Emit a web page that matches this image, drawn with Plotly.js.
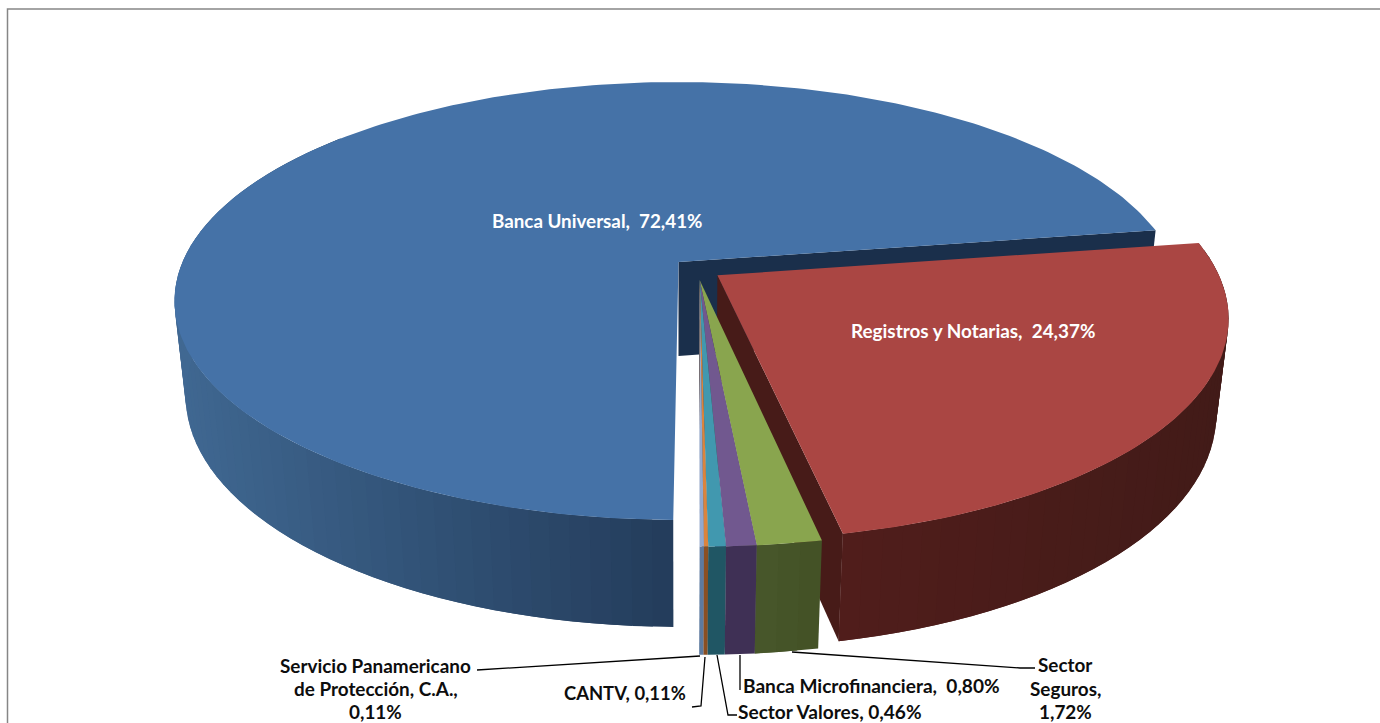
<!DOCTYPE html>
<html>
<head>
<meta charset="utf-8">
<script src="https://cdn.plot.ly/plotly-3.0.1.min.js"></script>
<style>html,body{margin:0;padding:0;background:#fff;overflow:hidden}#chart{width:1380px;height:723px}</style>
</head>
<body>
<div id="chart"></div>
<script>
// Shares of the total, in percent, in clockwise drawing order.
const categories = ["Banca Universal", "Registros y Notarias", "Sector Seguros", "Banca Microfinanciera", "Sector Valores", "CANTV", "Servicio Panamericano de Protección, C.A."];
const values = [72.41, 24.37, 1.72, 0.80, 0.46, 0.11, 0.11];
const topColors = ["#4572A7", "#AA4643", "#89A54E", "#71588F", "#4198AF", "#DB843D", "#93A9CF"];
const cutFaceColors = ["#1A2F4B", "#471B18", "#3F4D22", "#3A2C50", "#1E5260", "#85491F", "#5A7096"];
const wallLeftColors = ["#406892", "#501D1B", "#47562A", "#3F3055", "#205664", "#8A4F22", "#5D7A9F"];
const wallRightColors = ["#243D5C", "#421B18", "#445226", "#3A2B4D", "#1F5260", "#8A4F22", "#5D7A9F"];

// Projection of the unit disc on the page: perspective foreshortening in depth.
const cx = 678.5, cy = 262, radiusX = 496, radiusY = 212, tilt = 0.178;
const wallDrop = 96, wallRecede = 0.022;
const startAngle = 180.5;
// Exploded offsets on the disc, per slice.
const offsetX = [0, 0.0776, 0.042, 0.042, 0.042, 0.042, 0.042];
const offsetY = [0, -0.062, -0.0833, -0.0833, -0.0833, -0.0833, -0.0833];

const topPoint = (X, Y) => {
  const w = 1 + tilt * Y;
  return [cx + radiusX * X / w, cy - radiusY * Y / w];
};
const basePoint = (X, Y) => {
  const w = 1 + tilt * Y + wallRecede;
  return [cx + radiusX * X / w, cy + (wallDrop - radiusY * Y) / w];
};

const hexToRgb = h => [1, 3, 5].map(i => parseInt(h.substr(i, 2), 16));
const mix = (a, b, t) => {
  const p = hexToRgb(a), q = hexToRgb(b);
  return "rgb(" + p.map((v, i) => Math.round(v + (q[i] - v) * t)).join(",") + ")";
};

const traces = [];
const polygon = (pts, color) => traces.push({
  type: "scatter", mode: "lines", fill: "toself", fillcolor: color,
  x: pts.map(p => p[0]), y: pts.map(p => p[1]),
  line: {color: color, width: 0}, hoverinfo: "skip", showlegend: false
});

// Angular extent of every slice, accumulated clockwise from the start angle.
const slices = [];
let running = startAngle;
values.forEach((v, i) => {
  const sweep = v / 100 * 360;
  slices.push({i, from: running, to: running + sweep});
  running += sweep;
});

const rimAt = (s, deg) => {
  const r = deg * Math.PI / 180;
  return [offsetX[s.i] + Math.sin(r), offsetY[s.i] + Math.cos(r)];
};

function drawSlice(s) {
  const i = s.i;
  const hub = [offsetX[i], offsetY[i]];
  // Face cut along the clockwise end of the slice, seen through the gap.
  const end = rimAt(s, s.to);
  polygon([topPoint(...hub), topPoint(...end), basePoint(...end), basePoint(...hub)], cutFaceColors[i]);

  // Outer wall: shaded bands following the rim, each running under the next
  // so that no hairline shows between neighbours.
  const sweep = s.to - s.from;
  const wallSweep = Math.min(sweep, i === 0 ? 130 : sweep);
  const bands = Math.max(1, Math.round(wallSweep / 2));
  const step = wallSweep / bands;
  const xs = [];
  for (let b = 0; b < bands; b++) xs.push(topPoint(...rimAt(s, s.from + step * b))[0]);
  const lo = Math.min(...xs), hi = Math.max(...xs);
  for (let b = 0; b < bands; b++) {
    const a0 = s.from + step * b;
    const a1 = Math.min(s.from + wallSweep, a0 + step * 2);
    const p0 = rimAt(s, a0), pm = rimAt(s, (a0 + a1) / 2), p1 = rimAt(s, a1);
    const t = hi > lo ? (xs[b] - lo) / (hi - lo) : 0;
    polygon([topPoint(...p0), topPoint(...pm), topPoint(...p1), basePoint(...p1), basePoint(...pm), basePoint(...p0)],
            mix(wallLeftColors[i], wallRightColors[i], t));
  }

  // Top face.
  const outline = [topPoint(...hub)];
  const steps = Math.max(2, Math.round(sweep));
  for (let n = 0; n <= steps; n++) outline.push(topPoint(...rimAt(s, s.from + sweep * n / steps)));
  polygon(outline, topColors[i]);
}
slices.forEach(drawSlice);

// Leader lines from the small slices to their labels.
const leaderX = [[477, 700], [705, 701, 692], [717, 728, 737], [740, 740], [792, 1020, 1035]];
const leaderY = [[670, 656], [657, 706, 707], [655, 715, 715], [655, 690], [652, 668, 668]];
leaderX.forEach((xs, n) => traces.push({
  type: "scatter", mode: "lines", x: xs, y: leaderY[n],
  line: {color: "#000000", width: 1.3}, hoverinfo: "skip", showlegend: false
}));

const pct = i => values[i].toFixed(2).replace(".", ",") + "%";
const label = (text, x, y, color, size) => ({
  text: "<b>" + text + "</b>", x: x, y: y, xref: "x", yref: "y", showarrow: false,
  xanchor: "center", yanchor: "middle", align: "center",
  font: {family: "Lato, Carlito, sans-serif", size: size, color: color}
});
const ink = "#0D0D0D";
const annotations = [
  label(categories[0] + ",  " + pct(0), 596.5, 220, "#FFFFFF", 18.8),
  label(categories[1] + ",  " + pct(1), 972.5, 330, "#FFFFFF", 18.9),
  label("Sector", 1065, 664, ink, 18.9),
  label("Seguros,", 1065, 688, ink, 18.9),
  label(pct(2), 1065, 711, ink, 18.9),
  label(categories[3] + ",  " + pct(3), 871.5, 685, ink, 19.1),
  label(categories[4] + ", " + pct(4), 830, 711, ink, 19.1),
  label(categories[5] + ", " + pct(5), 624.5, 693, ink, 18.4),
  label("Servicio Panamericano", 375.5, 665, ink, 18.9),
  label("de Protección, C.A.,", 375.5, 688, ink, 18.9),
  label(pct(6), 375.5, 711, ink, 18.9)
];

const hidden = {visible: false, fixedrange: true, autorange: false};
Plotly.newPlot("chart", traces, {
  width: 1380, height: 723, margin: {l: 0, r: 0, t: 0, b: 0},
  paper_bgcolor: "#FFFFFF", plot_bgcolor: "#FFFFFF", showlegend: false,
  xaxis: Object.assign({range: [0, 1380]}, hidden),
  yaxis: Object.assign({range: [723, 0]}, hidden),
  annotations: annotations,
  shapes: [{type: "rect", xref: "x", yref: "y", x0: 7.5, y0: 9, x1: 1400, y1: 760, line: {color: "#868686", width: 1.5}}]
}, {displayModeBar: false, staticPlot: true});
</script>
</body>
</html>
